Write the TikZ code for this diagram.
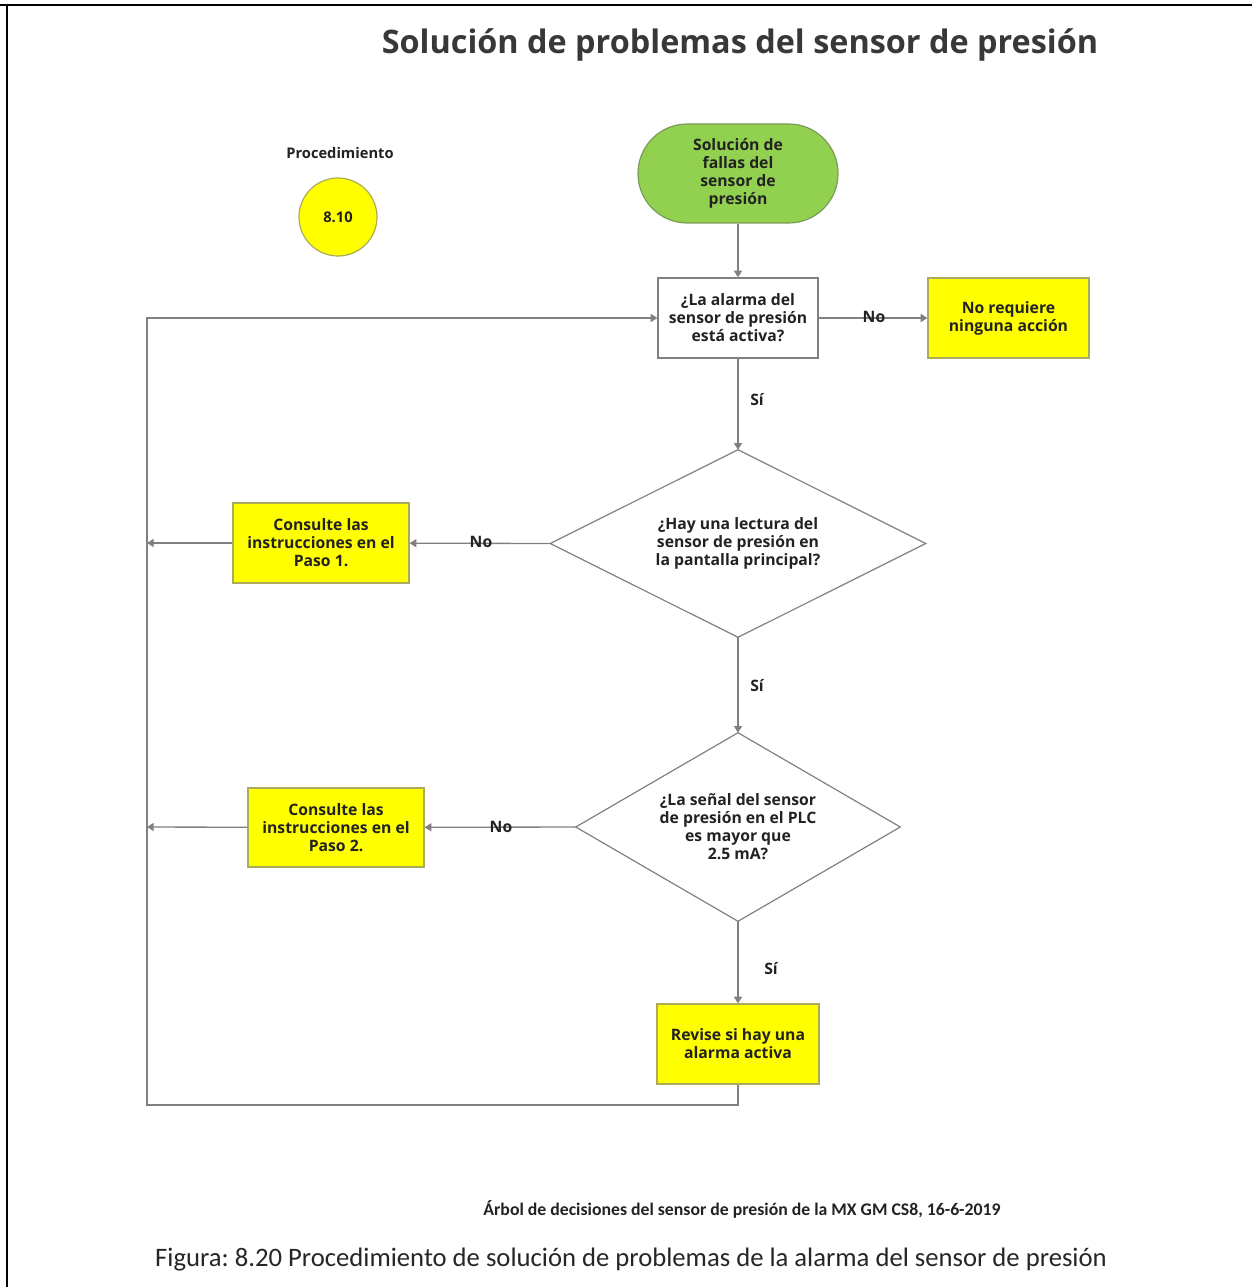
\documentclass[tikz,border=0pt]{standalone}
\usepackage{fontspec}
\setmainfont{Open Sans}
\newfontfamily\calib{Carlito}
\usetikzlibrary{shapes.geometric,arrows.meta}
\definecolor{lgray}{HTML}{808080}
\definecolor{ggreen}{HTML}{92D050}
\definecolor{yel}{HTML}{FFFF00}
\definecolor{txt}{HTML}{222222}
\definecolor{ybord}{HTML}{ABAB5C}
\definecolor{gbord}{HTML}{7A9A5A}
\frenchspacing
\begin{document}
\begin{tikzpicture}[x=0.75pt,y=-0.75pt,
  nfont/.style={font=\bfseries\fontsize{11.8}{13.5}\selectfont, text=txt},
  box/.style={nfont, draw=lgray, line width=0.9pt, minimum width=120pt, minimum height=60pt, inner sep=0pt, align=center},
  ybox/.style={box, fill=yel, draw=ybord},
  dia/.style={nfont, rectangle, draw=none, inner sep=0pt, align=center},
  diaedge/.style={draw=lgray, line width=0.9pt},
  arr/.style={draw=lgray, line width=1pt, -{Triangle[length=5pt,width=6pt]}},
  lbl/.style={nfont, inner sep=0pt},
]
\useasboundingbox (0,0) rectangle (1252,1287);
% frame
\draw[line width=2.2pt] (0,5) -- (1252,5);
\draw[line width=1.6pt] (7,5) -- (7,1287);

% title
\node[font=\bfseries\fontsize{24.3}{28}\selectfont, text=txt!90!white] (title) at (740,45) {Solución de problemas del sensor de presión};

% procedure
\node[font=\bfseries\fontsize{11}{12}\selectfont, text=txt] (proc) at (340,153) {Procedimiento};
\node[circle, fill=yel, draw=ybord, line width=0.9pt, minimum size=58.5pt, inner sep=0pt, font=\bfseries\fontsize{11}{12}\selectfont, text=txt] (num) at (338,217) {8.10};

% nodes
\node[nfont, draw=gbord, fill=ggreen, line width=0.9pt, rounded corners=37pt, minimum width=150pt, minimum height=74.25pt, inner sep=0pt, align=center] (start) at (738,173.5) {Solución de\\fallas del\\sensor de\\presión};
\node[box] (q1) at (738,318) {¿La alarma del\\sensor de presión\\está activa?};
\node[ybox, minimum width=120.75pt] (noacc) at (1008.5,318) {No requiere\\ninguna acción};
\node[dia, minimum width=281.25pt, minimum height=140.25pt] (d1) at (738,543.5) {¿Hay una lectura del\\sensor de presión en\\la pantalla principal?};
\path[diaedge] (d1.north) -- (d1.east) -- (d1.south) -- (d1.west) -- cycle;
\node[ybox, minimum width=132pt] (p1) at (321,543) {Consulte las\\instrucciones en el\\Paso 1.};
\node[dia, minimum width=243pt, minimum height=141pt] (d2) at (738,827) {¿La señal del sensor\\de presión en el PLC\\es mayor que\\2.5 mA?};
\path[diaedge] (d2.north) -- (d2.east) -- (d2.south) -- (d2.west) -- cycle;
\node[ybox, minimum width=132pt, minimum height=59.25pt] (p2) at (336,827.5) {Consulte las\\instrucciones en el\\Paso 2.};
\node[ybox, minimum width=121.5pt] (rev) at (738,1044) {Revise si hay una\\alarma activa};

% loop coordinates
\coordinate (l1) at (147,543);
\coordinate (l2) at (147,827);
\coordinate (br) at (738,1105);
\coordinate (bl) at (147,1105);
\coordinate (tl) at (147,318);

% connectors
\draw[arr] (start) -- (q1);
\draw[arr] (q1) -- (noacc);
\draw[arr] (q1) -- (d1.north);
\draw[arr] (d1.west) -- (p1);
\draw[arr] (p1) -- (l1);
\draw[arr] (d1.south) -- (d2.north);
\draw[arr] (d2.west) -- (p2);
\draw[arr] (p2) -- (l2);
\draw[arr] (d2.south) -- (rev);
\draw[arr] (rev.south) -- (br) -- (bl) -- (tl) -- (q1.west);

% labels
\node[lbl] (n1) at (874,317) {No};
\node[lbl] (s1) at (757,400) {Sí};
\node[lbl] (n2) at (481,542) {No};
\node[lbl] (s2) at (757,686) {Sí};
\node[lbl] (n3) at (501,827) {No};
\node[lbl] (s3) at (771,969) {Sí};

% footer
\node[font=\calib\bfseries\fontsize{13.3}{15}\selectfont, text=txt] (src) at (742,1209) {Árbol de decisiones del sensor de presión de la MX GM CS8, 16-6-2019};
\node[font=\calib\fontsize{20}{22}\selectfont, text=black!85] (cap) at (631,1260) {Figura: 8.20 Procedimiento de solución de problemas de la alarma del sensor de presión};
\end{tikzpicture}
\end{document}
